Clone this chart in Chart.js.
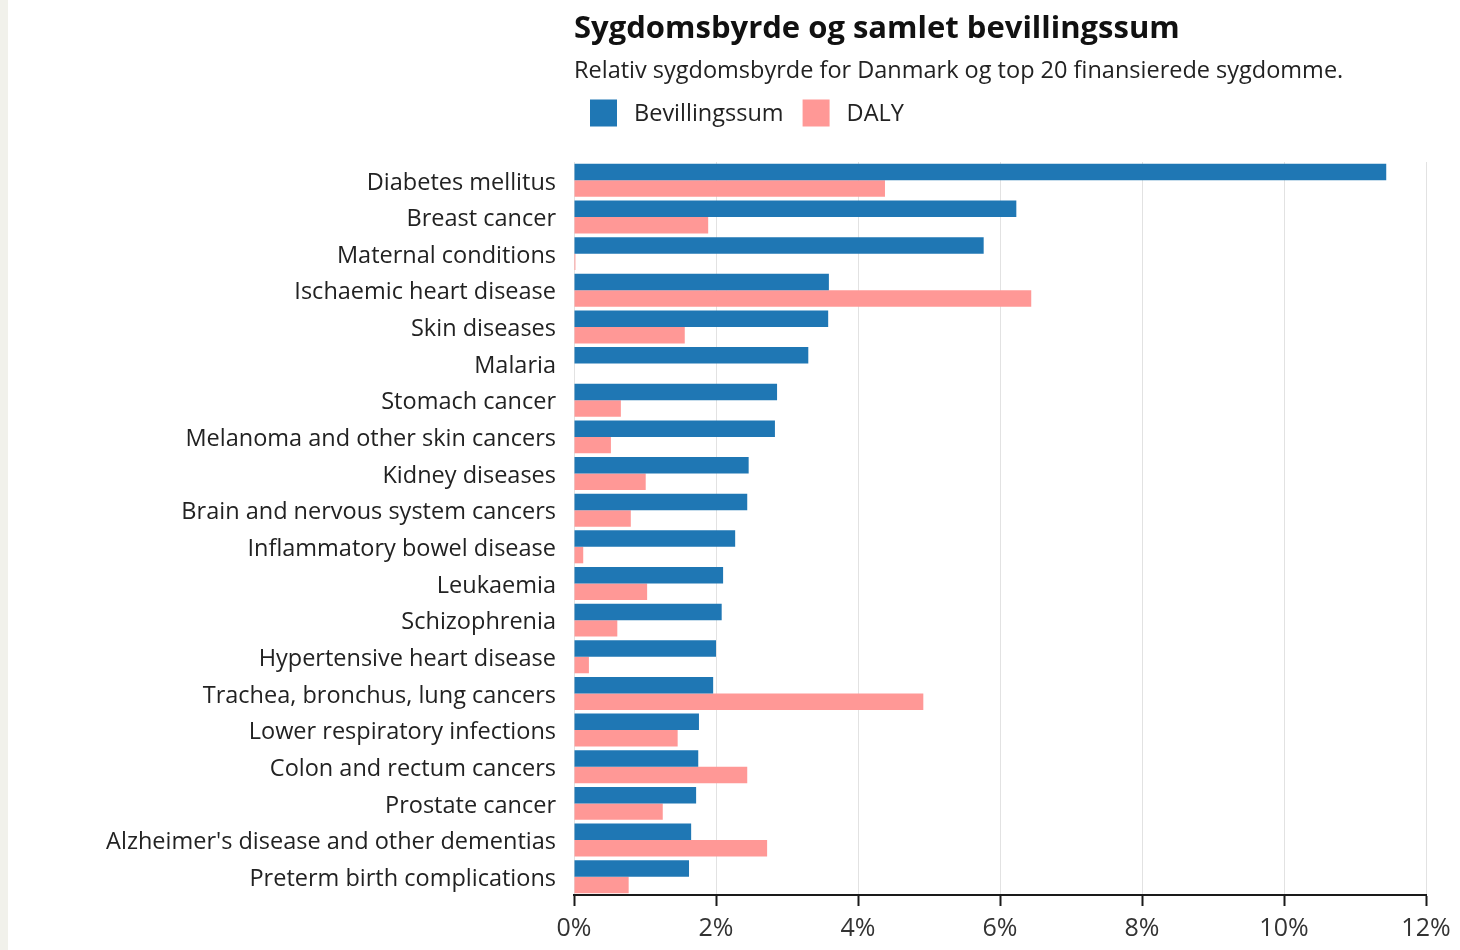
<!DOCTYPE html>
<html>
<head>
<meta charset="utf-8">
<script src="https://cdn.jsdelivr.net/npm/chart.js@4"></script>
<style>
  html, body { margin: 0; padding: 0; background: #ffffff; }
  #wrap { position: relative; width: 1460px; height: 950px; }
  #strip { position: absolute; left: 0; top: 0; width: 8px; height: 950px; background: #f1f1eb; }
  canvas { position: absolute; left: 0; top: 0; }
</style>
</head>
<body>
<div id="wrap">
  <div id="strip"></div>
  <canvas id="c" width="1460" height="950"></canvas>
</div>
<script>
const titleText = 'Sygdomsbyrde og samlet bevillingssum';
const subtitleText = 'Relativ sygdomsbyrde for Danmark og top 20 finansierede sygdomme.';
const categories = [
  'Diabetes mellitus', 'Breast cancer', 'Maternal conditions', 'Ischaemic heart disease',
  'Skin diseases', 'Malaria', 'Stomach cancer', 'Melanoma and other skin cancers',
  'Kidney diseases', 'Brain and nervous system cancers', 'Inflammatory bowel disease',
  'Leukaemia', 'Schizophrenia', 'Hypertensive heart disease', 'Trachea, bronchus, lung cancers',
  'Lower respiratory infections', 'Colon and rectum cancers', 'Prostate cancer',
  "Alzheimer's disease and other dementias", 'Preterm birth complications'
];
const bevillingssum = [11.44, 6.23, 5.77, 3.59, 3.58, 3.30, 2.86, 2.83, 2.46, 2.44, 2.27, 2.10, 2.08, 2.00, 1.96, 1.76, 1.75, 1.72, 1.65, 1.62];
const daly = [4.38, 1.89, 0.02, 6.44, 1.56, 0.0, 0.66, 0.52, 1.01, 0.80, 0.13, 1.03, 0.61, 0.21, 4.92, 1.46, 2.44, 1.25, 2.72, 0.77];
const xTicks = [0, 2, 4, 6, 8, 10, 12];

const FONT = '"Open Sans", Roboto, sans-serif';

const headerPlugin = {
  id: 'header',
  afterDraw(chart) {
    const ctx = chart.ctx;
    const left = chart.chartArea.left;
    ctx.save();
    ctx.textAlign = 'left';
    ctx.textBaseline = 'middle';
    ctx.fillStyle = '#111111';
    ctx.font = 'bold 31px ' + FONT;
    ctx.fillText(titleText, left, 29);
    ctx.fillStyle = '#222222';
    ctx.font = '23.5px ' + FONT;
    ctx.fillText(subtitleText, left, 71);
    // legend
    let x = left + 16;
    const y = 113;
    ctx.font = '23.5px ' + FONT;
    chart.data.datasets.forEach(ds => {
      ctx.fillStyle = ds.backgroundColor;
      ctx.fillRect(x, y - 13.5, 27, 27);
      ctx.fillStyle = '#222222';
      ctx.fillText(ds.label, x + 44, y + 1);
      x += 44 + ctx.measureText(ds.label).width + 19;
    });
    ctx.restore();
  }
};

new Chart(document.getElementById('c'), {
  type: 'bar',
  data: {
    labels: categories,
    datasets: [
      { label: 'Bevillingssum', data: bevillingssum, backgroundColor: '#1f77b4', categoryPercentage: 0.9, barPercentage: 1.0 },
      { label: 'DALY', data: daly, backgroundColor: '#ff9896', categoryPercentage: 0.9, barPercentage: 1.0 }
    ]
  },
  options: {
    indexAxis: 'y',
    responsive: false,
    animation: false,
    devicePixelRatio: 1,
    layout: { padding: { top: 162, right: 34, bottom: 0, left: 0 } },
    plugins: {
      legend: { display: false },
      title: { display: false },
      tooltip: { enabled: false }
    },
    scales: {
      x: {
        min: 0, max: 12,
        afterBuildTicks(s) { s.ticks = xTicks.map(v => ({ value: v })); },
        afterFit(s) { s.height = 55; },
        grid: {
          color: '#e2e2e2', borderDash: [2, 3], lineWidth: 1,
          tickColor: '#1a1a1a', tickBorderDash: [], tickLength: 11, tickWidth: 2
        },
        border: { display: true, color: '#1a1a1a', width: 2 },
        ticks: {
          color: '#333333', padding: 8,
          font: { family: FONT, size: 25 },
          callback: v => v + '%'
        }
      },
      y: {
        afterFit(s) { s.width = 574; },
        grid: { display: false, drawTicks: false },
        border: { display: false },
        ticks: { color: '#222222', padding: 18, labelOffset: 2.5, font: { family: FONT, size: 23.5 } }
      }
    }
  },
  plugins: [headerPlugin]
});
</script>
</body>
</html>
